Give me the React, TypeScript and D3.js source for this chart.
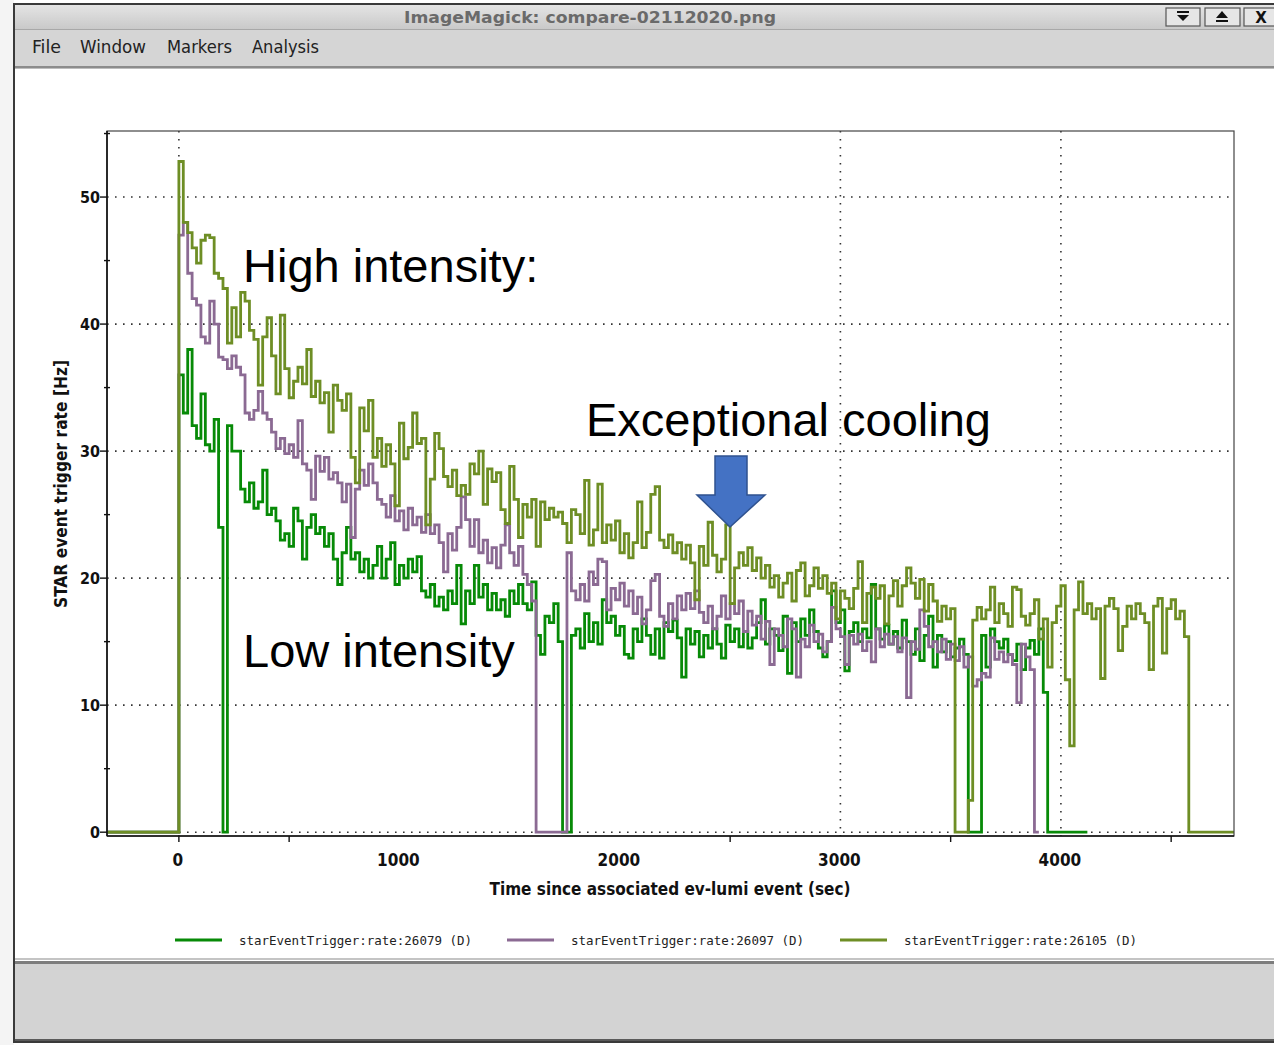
import React from 'react';
import * as d3 from 'd3';

// sampling interval of the rate series (seconds)
const STEP = 20;
const X_DOMAIN: [number, number] = [-326, 4785];
const Y_DOMAIN: [number, number] = [-0.3, 55.2];

const greenValues = [
  36, 33, 38, 32, 31, 34.5, 30.5, 30, 32.5, 24,
  0,
  32, 30, 30, 27, 26, 27.5, 25.5, 26, 28.5, 25,
  25.5, 24.5, 23, 23.5, 22.5, 25.5, 24.5, 21.5, 24, 25,
  23.5, 24, 22.5, 23.5, 21.5, 19.5, 22, 24, 21.5, 22,
  20.5, 21.5, 20, 21, 22.5, 20, 21.5, 22.8, 19.5, 21,
  20, 21.5, 20.5, 21.7, 19, 18.5, 19.5, 17.8, 18.5, 17.5,
  19, 18, 21, 16.4, 19, 18, 21, 18.5, 19.5, 17.5,
  18.8, 17.5, 18.3, 17, 19, 18, 19.5, 18, 17.5, 19.7,
  15.5, 14, 17, 16.5, 18, 15, 0, 0, 15.5, 16,
  14.5, 17.2, 15, 16.5, 14.8, 18.3, 16.5, 17, 15.5, 16.2,
  14, 13.7, 16, 15, 16.8, 15.5, 14, 16, 13.7, 16.5,
  15.8, 16.7, 15.3, 12.2, 16, 14.8, 15.8, 13.8, 15.5, 14.5,
  16, 14.8, 13.7, 16.3, 15, 16, 14.6, 15.8, 14.5, 15.3,
  16.5, 18.3, 14.8, 16, 15.5, 14.3, 17, 12.5, 16.5, 15,
  16.8, 15.5, 17.5, 15.8, 14.5, 13.8, 15, 19, 16.5, 17.5,
  12.7, 15.8, 16.5, 15, 16, 15.3, 19.5, 16, 15.2, 16.3,
  14.8, 15.8, 14.5, 16.7, 15, 14, 16, 13.5, 15.5, 17,
  13, 15.5, 14.2, 15, 13.8, 14.5, 15.2, 14, 0, 0,
  0, 15.5, 13, 16, 15, 14.5, 15.2, 14, 13.5, 14.8,
  12.8, 14.5, 15.1, 14, 16, 11, 0, 0, 0, 0,
  0, 0, 0, 0, 0,
];

const purpleValues = [
  47, 48, 44, 42, 41.5, 39, 38.5, 41.8, 40, 37.4, 37.2,
  36.5, 37.5, 36.6, 36, 33, 32.5, 33.2, 34.7, 33, 32.5,
  31.5, 30.2, 31, 29.8, 30.5, 29.5, 32.4, 29, 28.5, 26.2,
  29.6, 28.4, 29.5, 27.8, 28.3, 27.5, 26, 27.4, 23.2, 27,
  28.5, 27.3, 29, 27.5, 26.2, 25.8, 24.8, 26.5, 24.5, 25.3,
  23.8, 25.5, 24.2, 24.8, 23.6, 25, 23.5, 24.2, 22.8, 20.5,
  23.5, 22.2, 24, 26.4, 24.6, 22.5, 24.6, 22, 23, 21.2,
  22.4, 20.8, 22.6, 24.2, 22, 21, 22.5, 20.3, 19.5, 18.2,
  0, 0, 0, 0, 0, 0, 0, 22, 19, 18.3,
  19.5, 18.2, 20.5, 19.5, 21.5, 21.3, 17.5, 19.2, 18.3, 19.6,
  17.8, 19, 17.2, 18.5, 16.4, 17.5, 19.8, 20.3, 17, 16.2,
  18, 16.8, 18.6, 17.5, 18.8, 17.6, 19, 17.3, 16.5, 17.8,
  16, 17, 18.6, 16.8, 18, 17.2, 18.2, 15.8, 17.4, 16.3,
  17, 15.2, 16.6, 13.2, 16, 15.5, 14.6, 16.8, 16, 12.2,
  15.2, 14.6, 16.3, 15, 15.6, 14.2, 15, 17.7, 16, 15.4,
  13.2, 15.5, 14.8, 15.6, 14.3, 15, 13.4, 16, 14.6, 15.6,
  14.8, 15.4, 14.2, 15.3, 10.6, 15, 14.4, 17.5, 16.2, 14.6,
  15, 14.2, 15.2, 13.6, 14.8, 13.5, 14.6, 13, 13.8, 11.5,
  12, 12.5, 12.2, 15.3, 13.6, 14.2, 13.4, 14, 13.2, 10.2,
  14.8, 13.8, 12.8, 0,
];

const oliveValues = [
  52.8, 48, 47.2, 46, 44.8, 46.6, 47, 46.8, 44, 43.6, 42.8,
  38.5, 41.3, 39, 42.5, 41.8, 39.5, 38.8, 35.2, 39, 40.5,
  37.5, 34.5, 40.7, 36.5, 34.2, 35.5, 36.6, 35.3, 38, 34.3,
  35.5, 33.8, 34.6, 31.5, 35.2, 34, 33.2, 34.5, 29.5, 27.5,
  33.4, 31.6, 34, 29.5, 31, 28.8, 30.5, 29, 25.7, 32.2,
  29.4, 30.3, 33, 30.6, 31, 24.2, 27.8, 31.4, 30.2, 28,
  27.2, 28.5, 26.5, 27.3, 26.6, 29, 28.2, 30, 25.8, 28.6,
  27.6, 28.3, 25.4, 24.3, 28.8, 26.2, 23.2, 25.8, 24.8, 26.2,
  22.5, 26, 24.6, 25.5, 24.8, 25.2, 24.3, 22.8, 25.4, 25,
  23.5, 27.7, 22.6, 23.8, 27.4, 22.8, 24.2, 23, 24.5, 22,
  23.5, 21.6, 22.8, 26, 22.4, 23.6, 26.6, 27.2, 23, 22.4,
  23.4, 22, 22.8, 21.5, 22.6, 21.2, 18.3, 22.5, 21, 24.4,
  21.8, 20.5, 21.5, 24.2, 18, 20.8, 22, 21, 22.4, 20.6,
  21.6, 20, 21, 19.3, 20.2, 18.5, 19.6, 20.4, 18.2, 20.6,
  21.2, 18.6, 19.4, 20.8, 19.2, 20.2, 18.8, 19.6, 16.8, 19,
  18.4, 17.6, 19.2, 21.3, 16.5, 18.8, 19.3, 18.4, 19.4, 16.4,
  18.6, 19.8, 17.8, 19.4, 20.8, 19.6, 18.4, 19.9, 17.4, 19.5,
  18.2, 16.6, 17.8, 16.8, 17.6, 0, 0, 0, 2.5, 16.7,
  17.7, 16.8, 17.5, 19.3, 16.5, 18, 17.2, 16.2, 19.3, 19.1,
  17, 16.3, 17.2, 18.3, 15.2, 16.8, 13, 16.5, 17.8, 19.4,
  12, 6.8, 17.5, 19.7, 17.2, 18, 16.8, 17.6, 12.1, 17.8,
  18.4, 17.6, 14.3, 16.2, 17.8, 16.8, 18, 17.2, 16.5, 12.8,
  17.8, 18.4, 14.1, 17.6, 18.3, 16.8, 17.4, 15.4, 0,
];

const seriesNames = [
  'starEventTrigger:rate:26079 (D)',
  'starEventTrigger:rate:26097 (D)',
  'starEventTrigger:rate:26105 (D)',
];
const seriesColors = ['#078a07', '#8b6a93', '#6e8e25'];

const yTicks = [0, 10, 20, 30, 40, 50];
const yMinorTicks = [5, 15, 25, 35, 45, 55];
const xTickLabels = [0, 1000, 2000, 3000, 4000];
const xTickMarks = [0, 500, 2500, 3500, 4500];
const xGridLines = [0, 3000, 4000];

const menuItems = [
  { label: 'File', x: 32, w: 29 },
  { label: 'Window', x: 80, w: 66 },
  { label: 'Markers', x: 167, w: 65 },
  { label: 'Analysis', x: 252, w: 67 },
];

const PLOT = { left: 107, right: 1234, top: 131, bottom: 836 };

type Pt = { t: number; v: number };

function buildPoints(values: number[], extendToEnd: boolean): Pt[] {
  const pts: Pt[] = [{ t: X_DOMAIN[0], v: 0 }];
  values.forEach((v, i) => pts.push({ t: i * STEP, v }));
  const last = values[values.length - 1];
  pts.push({ t: extendToEnd ? X_DOMAIN[1] : values.length * STEP, v: last });
  return pts;
}

export default function App() {
  const x = d3.scaleLinear().domain(X_DOMAIN).range([PLOT.left, PLOT.right]);
  const y = d3.scaleLinear().domain(Y_DOMAIN).range([PLOT.bottom, PLOT.top]);
  const line = d3
    .line<Pt>()
    .x((d) => x(d.t))
    .y((d) => y(d.v))
    .curve(d3.curveStepAfter);

  const series = [
    buildPoints(greenValues, false),
    buildPoints(purpleValues, false),
    buildPoints(oliveValues, true),
  ];

  const axisFont = "'Liberation Sans Narrow', 'DejaVu Sans Condensed', 'DejaVu Sans', sans-serif";
  const legendX = [175, 507, 840];

  return (
    <svg
      width={1274}
      height={1045}
      style={{ position: 'absolute', left: 0, top: 0, background: '#ffffff' }}
    >
      <defs>
        <linearGradient id="titleGrad" x1="0" y1="0" x2="0" y2="1">
          <stop offset="0" stopColor="#e4e4e4" />
          <stop offset="1" stopColor="#c9c9c9" />
        </linearGradient>
        <clipPath id="plotClip">
          <rect x={PLOT.left} y={PLOT.top} width={PLOT.right - PLOT.left} height={PLOT.bottom - PLOT.top} />
        </clipPath>
      </defs>

      {/* outer desktop */}
      <rect x={0} y={0} width={1274} height={1045} fill="#ffffff" />
      <rect x={0} y={0} width={14} height={1045} fill="#f4f4f4" />

      {/* window frame */}
      <rect x={14} y={4} width={1262} height={1038} fill="#ffffff" stroke="#3a3a3a" strokeWidth={2} />
      {/* title bar */}
      <rect x={15} y={5} width={1259} height={24} fill="url(#titleGrad)" />
      <text
        x={590}
        y={23}
        textAnchor="middle"
        fontFamily="'DejaVu Sans', sans-serif"
        fontWeight="bold"
        fontSize={15}
        fill="#6a6a6a"
        textLength={372}
        lengthAdjust="spacingAndGlyphs"
      >
        ImageMagick: compare-02112020.png
      </text>
      {/* title buttons */}
      <g>
        <rect x={1166} y={8} width={34} height={18} fill="#e6e6e6" stroke="#555" strokeWidth={1.2} />
        <rect x={1177} y={11} width={12} height={2} fill="#111" />
        <path d="M1177,15 L1189,15 L1183,21 Z" fill="#111" />
        <rect x={1205} y={8} width={35} height={18} fill="#e6e6e6" stroke="#555" strokeWidth={1.2} />
        <path d="M1216,18 L1228,18 L1222,11 Z" fill="#111" />
        <rect x={1216} y={20} width={12} height={2} fill="#111" />
        <rect x={1244} y={8} width={32} height={18} fill="#e6e6e6" stroke="#555" strokeWidth={1.2} />
        <text x={1261} y={23} textAnchor="middle" fontFamily="'DejaVu Sans', sans-serif" fontWeight="bold" fontSize={15} fill="#111">
          X
        </text>
      </g>
      <line x1={15} x2={1274} y1={29.5} y2={29.5} stroke="#a8a8a8" strokeWidth={1} />

      {/* menu bar */}
      <rect x={15} y={30} width={1259} height={37} fill="#d5d5d5" />
      {menuItems.map((m) => (
        <text
          key={m.label}
          x={m.x}
          y={53}
          fontFamily={axisFont}
          fontSize={17}
          fill="#222"
          textLength={m.w}
          lengthAdjust="spacingAndGlyphs"
        >
          {m.label}
        </text>
      ))}
      <rect x={15} y={66} width={1259} height={2} fill="#8c8c8c" />
      <rect x={15} y={68} width={1259} height={1} fill="#bdbdbd" />

      {/* bottom status area */}
      <rect x={15} y={958} width={1259} height={2} fill="#c4c4c4" />
      <rect x={15} y={961} width={1259} height={3} fill="#7d7d7d" />
      <rect x={15} y={964} width={1259} height={76} fill="#d3d3d3" />
      <rect x={15} y={1039} width={1259} height={2} fill="#5a5a5a" />

      {/* grid lines */}
      {yTicks.map((v) => (
        <line
          key={'gy' + v}
          x1={PLOT.left}
          x2={PLOT.right}
          y1={y(v)}
          y2={y(v)}
          stroke="#333"
          strokeWidth={1.6}
          strokeDasharray="1.6,6.4"
        />
      ))}
      {xGridLines.map((v) => (
        <line
          key={'gx' + v}
          x1={x(v)}
          x2={x(v)}
          y1={PLOT.top}
          y2={PLOT.bottom}
          stroke="#333"
          strokeWidth={1.6}
          strokeDasharray="1.6,6.4"
        />
      ))}

      {/* series */}
      <g clipPath="url(#plotClip)">
        {series.map((pts, i) => (
          <path
            key={'s' + i}
            d={line(pts) || ''}
            fill="none"
            stroke={seriesColors[i]}
            strokeWidth={2.8}
            strokeLinejoin="miter"
          />
        ))}
      </g>

      {/* frame and axes */}
      <rect
        x={PLOT.left}
        y={PLOT.top}
        width={PLOT.right - PLOT.left}
        height={PLOT.bottom - PLOT.top}
        fill="none"
        stroke="#444"
        strokeWidth={1.2}
      />
      <line x1={PLOT.left} x2={PLOT.left} y1={PLOT.top} y2={PLOT.bottom} stroke="#111" strokeWidth={1.6} />
      <line x1={PLOT.left} x2={PLOT.right} y1={PLOT.bottom} y2={PLOT.bottom} stroke="#111" strokeWidth={1.6} />

      {/* y ticks */}
      {yTicks.map((v) => (
        <g key={'yt' + v}>
          <line x1={100} x2={107} y1={y(v)} y2={y(v)} stroke="#111" strokeWidth={1.4} />
          <text
            x={100}
            y={y(v) + 6}
            textAnchor="end"
            fontFamily={axisFont}
            fontWeight="bold"
            fontSize={16}
            fill="#111"
          >
            {v}
          </text>
        </g>
      ))}
      {yMinorTicks.map((v) => (
        <line key={'ym' + v} x1={104} x2={110} y1={y(v)} y2={y(v)} stroke="#111" strokeWidth={1.4} />
      ))}

      {/* x ticks */}
      {xTickMarks.map((v) => (
        <line key={'xt' + v} x1={x(v)} x2={x(v)} y1={PLOT.bottom} y2={PLOT.bottom + 6} stroke="#111" strokeWidth={1.4} />
      ))}
      {xTickLabels.map((v) => (
        <text
          key={'xl' + v}
          x={x(v) - 1}
          y={866}
          textAnchor="middle"
          fontFamily={axisFont}
          fontWeight="bold"
          fontSize={17}
          fill="#111"
        >
          {v}
        </text>
      ))}

      {/* axis titles */}
      <text
        x={670}
        y={895}
        textAnchor="middle"
        fontFamily={axisFont}
        fontWeight="bold"
        fontSize={18}
        fill="#111"
        textLength={361}
        lengthAdjust="spacingAndGlyphs"
      >
        Time since associated ev-lumi event (sec)
      </text>
      <text
        transform="translate(67,484) rotate(-90)"
        textAnchor="middle"
        fontFamily={axisFont}
        fontWeight="bold"
        fontSize={17}
        fill="#111"
        textLength={248}
        lengthAdjust="spacingAndGlyphs"
      >
        STAR event trigger rate [Hz]
      </text>

      {/* legend */}
      {seriesNames.map((name, i) => (
        <g key={'lg' + i}>
          <line x1={legendX[i]} x2={legendX[i] + 47} y1={940} y2={940} stroke={seriesColors[i]} strokeWidth={3} />
          <text
            x={legendX[i] + 64}
            y={945}
            fontFamily="'DejaVu Sans Mono', monospace"
            fontSize={13}
            fill="#222"
            textLength={233}
            lengthAdjust="spacingAndGlyphs"
          >
            {name}
          </text>
        </g>
      ))}

      {/* annotations */}
      <text x={243} y={282} fontFamily="'Liberation Sans', Arial, sans-serif" fontSize={47} fill="#000">
        High intensity:
      </text>
      <text x={243} y={667} fontFamily="'Liberation Sans', Arial, sans-serif" fontSize={47} fill="#000">
        Low intensity
      </text>
      <text x={586} y={436} fontFamily="'Liberation Sans', Arial, sans-serif" fontSize={47} fill="#000">
        Exceptional cooling
      </text>
      <path
        d="M715,456 L747,456 L747,495 L765,495 L730,527 L697,495 L715,495 Z"
        fill="#4472c4"
        stroke="#2f528f"
        strokeWidth={1.5}
      />
    </svg>
  );
}
